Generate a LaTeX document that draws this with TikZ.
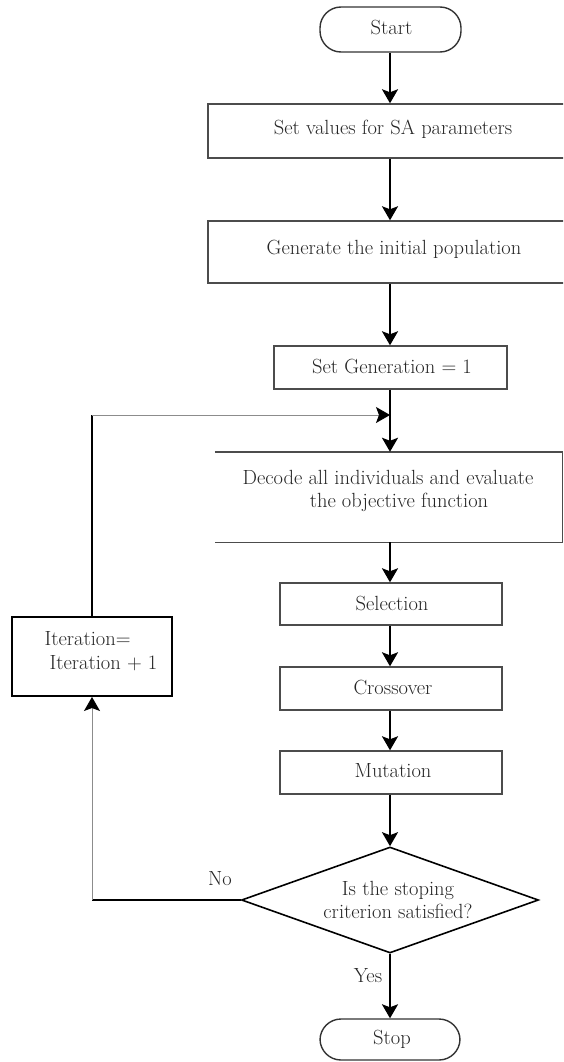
\documentclass[tikz,border=0pt]{standalone}
\usetikzlibrary{shapes.geometric,arrows.meta}
\begin{document}
\begin{tikzpicture}[x=1pt,y=-1pt,
  txt/.style={font=\fontsize{20.5}{23.5}\selectfont, text=black!85, inner sep=0pt},
  boxst/.style={draw=black!70, line width=1.4pt, inner sep=0pt},
  pill/.style={draw=black!80, line width=1.4pt, rounded corners=21pt, inner sep=0pt},
  arr/.style={line width=2.2pt, -{Stealth[length=14pt,width=16pt,inset=3pt]}},
  thinarr/.style={line width=0.8pt, draw=black!45, -{Stealth[length=14pt,width=16pt,inset=3pt,color=black]}},
  lnk/.style={line width=2.2pt},
  thinlnk/.style={line width=0.8pt, draw=black!45}]
\useasboundingbox (0,0) rectangle (563,1062);
\clip (0,0) rectangle (563,1062);

% shapes
\node[pill, minimum width=141pt, minimum height=45pt] (start) at (390.5,29.5) {};
\node[boxst, minimum width=372pt, minimum height=54pt] (b1) at (394,131) {};
\node[boxst, minimum width=372pt, minimum height=62pt] (b2) at (394,252) {};
\node[boxst, minimum width=233pt, minimum height=43pt] (b3) at (390.5,367.5) {};
\node[inner sep=0pt, minimum width=347pt, minimum height=90pt] (b4) at (388.5,497) {};
\draw[draw=black!70, line width=1.4pt] (b4.north west) -- (b4.north east) -- (b4.south east) -- (b4.south west);
\node[boxst, minimum width=222pt, minimum height=42pt] (sel) at (391,604) {};
\node[boxst, minimum width=222pt, minimum height=43pt] (cro) at (391,688.5) {};
\node[boxst, minimum width=222pt, minimum height=43pt] (mut) at (391,772.5) {};
\node[draw=black, line width=2pt, inner sep=0pt, minimum width=160pt, minimum height=79pt] (iter) at (92,656.5) {};
\node[diamond, draw=black, line width=1.6pt, inner sep=0pt, minimum width=297pt, minimum height=106pt] (dia) at (390,900) {};
\node[pill, minimum width=140pt, minimum height=41pt] (stop) at (390,1039.5) {};

% texts
\node[txt] (tstart) at (391.5,28) {Start};
\node[txt] (t1) at (393,129) {Set values for SA parameters};
\node[txt] (t2) at (394,249) {Generate the initial population};
\node[txt] (t3) at (392,366) {Set Generation = 1};
\node[txt, align=center] (t4) at (388,491) {Decode all individuals and evaluate\\\hspace*{22pt}the objective function};
\node[txt] (tsel) at (392,603) {Selection};
\node[txt] (tcro) at (393,687) {Crossover};
\node[txt] (tmut) at (393,771) {Mutation};
\node[txt, align=left] (titer) at (101,651) {Iteration=\\\hspace*{5pt}Iteration + 1};
\node[txt, align=center] (tdia) at (398,900) {Is the stoping\\criterion satisfied?};
\node[txt] (tstop) at (392,1039) {Stop};
\node[txt] (tno) at (220,879) {No};
\node[txt] (tyes) at (368,976) {Yes};

% connectors
\draw[arr] (start.south -| 390,0) -- (b1.north -| 390,0);
\draw[arr] (b1.south -| 390,0) -- (b2.north -| 390,0);
\draw[arr] (b2.south -| 390,0) -- (b3.north -| 390,0);
\draw[arr] (b3.south -| 390,0) -- (b4.north -| 390,0);
\draw[arr] (b4.south -| 390,0) -- (sel.north -| 390,0);
\draw[arr] (sel.south -| 390,0) -- (cro.north -| 390,0);
\draw[arr] (cro.south -| 390,0) -- (mut.north -| 390,0);
\draw[arr] (mut.south -| 390,0) -- (dia.north);
\draw[arr] (dia.south) -- (stop.north -| dia.south);

\coordinate (c1) at (iter.south |- dia.west);
\coordinate (c2) at (iter.north |- 0,415);
\coordinate (join) at (390,415);
\draw[lnk] (dia.west) -- (c1);
\draw[thinarr] (c1) -- (iter.south);
\draw[lnk] (iter.north) -- (c2);
\draw[thinarr] (c2) -- (join);
\end{tikzpicture}
\end{document}
